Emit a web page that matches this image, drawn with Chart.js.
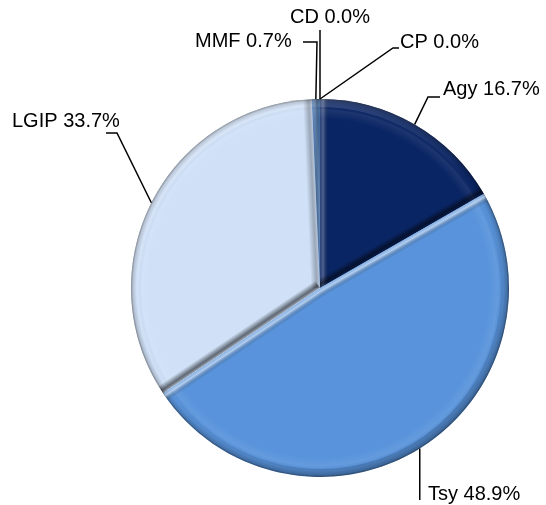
<!DOCTYPE html>
<html><head><meta charset="utf-8">
<script src="https://cdn.jsdelivr.net/npm/chart.js@4/dist/chart.umd.min.js"></script>
<style>html,body{margin:0;padding:0;background:#fff;} #wrap{width:546px;height:505px;}</style>
</head><body><div id="wrap"><canvas id="c" width="546" height="505"></canvas></div>
<script>
// ---- data ----
const categories = ['Agy', 'Tsy', 'LGIP', 'MMF', 'CD', 'CP'];
const shares = [16.7, 48.9, 33.7, 0.7, 0.0, 0.0];
const labelTexts = categories.map((c, i) => c + ' ' + shares[i].toFixed(1) + '%');

// ---- styles ----
const sliceColors = ['#0a2564', '#5893db', '#cfe0f7', '#4a7fc4', '#3f6fb0', '#2f5a98'];
// label layout: text left / baseline, leader-line elbow points (from slice edge outward)
const labelLayout = {
  Agy:  { tx: 443, ty: 95,  pts: [[428, 97], [440, 97]] },
  Tsy:  { tx: 428, ty: 500, pts: [[421, 500]] },
  LGIP: { tx: 12,  ty: 127, pts: [[117, 133], [106, 133]] },
  MMF:  { tx: 195, ty: 47,  pts: [[317, 42], [303, 42]] },
  CD:   { tx: 290, ty: 23,  pts: [[321, 30]] },
  CP:   { tx: 400, ty: 48,  pts: [[393, 48], [399, 48]] }
};
const LIGHT = { x: -0.5, y: -0.85 };

function shadeColor(s, k) {
  return s >= 0 ? 'rgba(255,255,255,' + (s * k).toFixed(3) + ')' : 'rgba(0,0,0,' + (-s * k).toFixed(3) + ')';
}

const bevelPlugin = {
  id: 'bevel',
  afterDatasetsDraw(chart) {
    const ctx = chart.ctx;
    const meta = chart.getDatasetMeta(0);
    meta.data.forEach((el) => {
      const { x, y, startAngle, endAngle, outerRadius: r } = el.getProps(['x', 'y', 'startAngle', 'endAngle', 'outerRadius'], true);
      if (endAngle - startAngle < 1e-4) return;
      ctx.save();
      ctx.beginPath();
      ctx.moveTo(x, y);
      ctx.arc(x, y, r, startAngle, endAngle);
      ctx.closePath();
      ctx.clip();
      // outer rim ring
      const rg = ctx.createRadialGradient(x, y, r - 20, x, y, r);
      rg.addColorStop(0, 'rgba(255,255,255,0)');
      rg.addColorStop(0.45, 'rgba(255,255,255,0.08)');
      rg.addColorStop(0.7, 'rgba(0,0,0,0)');
      rg.addColorStop(0.9, 'rgba(0,0,0,0.16)');
      rg.addColorStop(1, 'rgba(0,0,0,0.45)');
      ctx.fillStyle = rg;
      ctx.fillRect(x - r, y - r, 2 * r, 2 * r);
      // directional rim
      const cg = ctx.createConicGradient(0, x, y);
      for (let i = 0; i <= 24; i++) {
        const a = i / 24 * Math.PI * 2;
        const s = Math.cos(a) * LIGHT.x + Math.sin(a) * LIGHT.y;
        cg.addColorStop(i / 24, shadeColor(s, 0.18));
      }
      ctx.strokeStyle = cg;
      ctx.lineWidth = 8;
      ctx.beginPath();
      ctx.arc(x, y, r - 4, startAngle, endAngle);
      ctx.stroke();
      // radial edges
      const w = 9;
      const edges = [
        { a: startAngle, n: { x: Math.sin(startAngle), y: -Math.cos(startAngle) } },
        { a: endAngle, n: { x: -Math.sin(endAngle), y: Math.cos(endAngle) } }
      ];
      edges.forEach(({ a, n }) => {
        const s = n.x * LIGHT.x + n.y * LIGHT.y;
        const d = { x: Math.cos(a), y: Math.sin(a) };
        const lg = ctx.createLinearGradient(x, y, x - n.x * w, y - n.y * w);
        lg.addColorStop(0, shadeColor(s, 0.25));
        lg.addColorStop(0.35, shadeColor(s, 0.55));
        lg.addColorStop(1, 'rgba(0,0,0,0)');
        ctx.fillStyle = lg;
        ctx.beginPath();
        ctx.moveTo(x, y);
        ctx.lineTo(x + d.x * r, y + d.y * r);
        ctx.lineTo(x + d.x * r - n.x * w, y + d.y * r - n.y * w);
        ctx.lineTo(x - n.x * w, y - n.y * w);
        ctx.closePath();
        ctx.fill();
      });
      ctx.restore();
    });
  },
  afterDraw(chart) {
    const ctx = chart.ctx;
    const meta = chart.getDatasetMeta(0);
    ctx.save();
    ctx.font = '20px "Liberation Sans", Arial, sans-serif';
    ctx.fillStyle = '#000';
    ctx.strokeStyle = '#000';
    ctx.lineWidth = 1.5;
    ctx.textBaseline = 'alphabetic';
    ctx.textAlign = 'left';
    meta.data.forEach((el, i) => {
      const lay = labelLayout[categories[i]];
      const { x, y, startAngle, endAngle, outerRadius: r } = el.getProps(['x', 'y', 'startAngle', 'endAngle', 'outerRadius'], true);
      const mid = (startAngle + endAngle) / 2;
      const sx = x + Math.cos(mid) * r, sy = y + Math.sin(mid) * r;
      ctx.beginPath();
      ctx.moveTo(sx, sy);
      lay.pts.forEach(([px, py], k) => {
        if (k === 0 && lay.pts.length === 1 && Math.abs(px - sx) < 6) ctx.lineTo(sx, py);
        else ctx.lineTo(px, py);
      });
      ctx.stroke();
      ctx.fillText(labelTexts[i], lay.tx, lay.ty);
    });
    ctx.restore();
  }
};

new Chart(document.getElementById('c'), {
  type: 'pie',
  data: {
    labels: categories,
    datasets: [{
      data: shares,
      backgroundColor: sliceColors,
      borderWidth: 0,
      offset: 0,
      hoverOffset: 0
    }]
  },
  options: {
    responsive: false,
    animation: false,
    layout: { padding: { top: 99, bottom: 28, left: 131, right: 37 } },
    plugins: { legend: { display: false }, tooltip: { enabled: false } }
  },
  plugins: [bevelPlugin]
});
</script>
</body></html>
